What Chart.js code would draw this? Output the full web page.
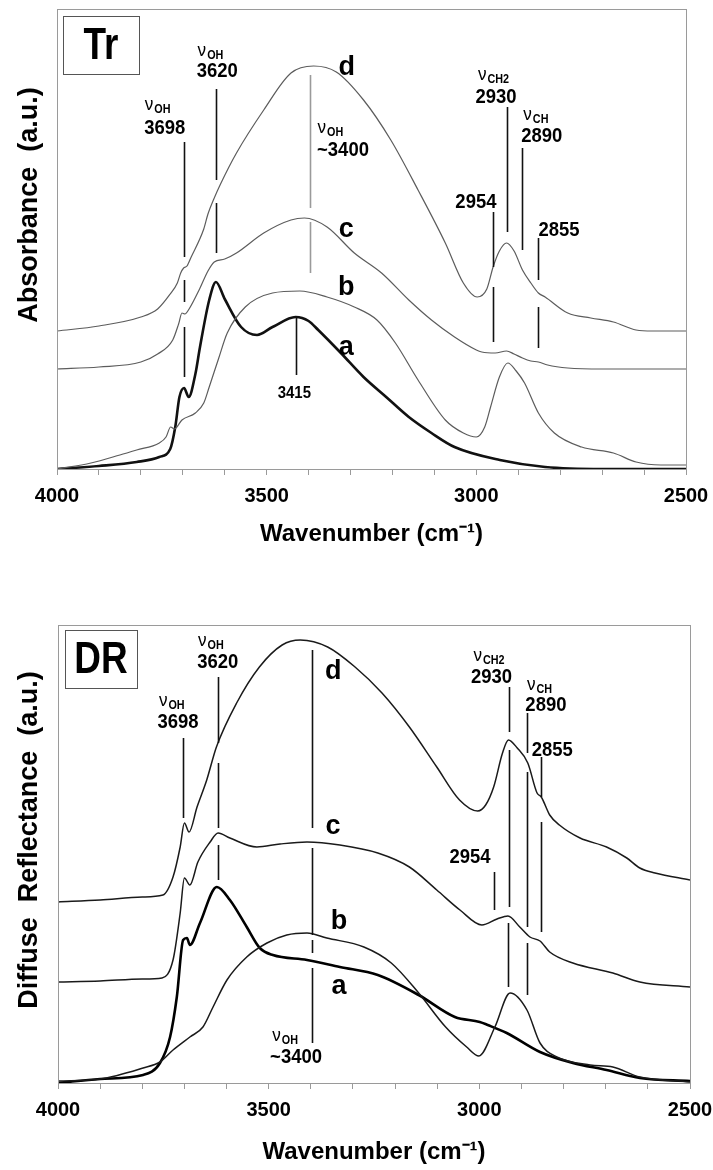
<!DOCTYPE html>
<html>
<head>
<meta charset="utf-8">
<script src="https://cdn.jsdelivr.net/npm/chart.js@4.4.1/dist/chart.umd.min.js"></script>
<style>
  html, body { margin: 0; padding: 0; background: #fff; }
  canvas { display: block; }
</style>
</head>
<body>
<canvas id="trChart" width="713" height="560"></canvas>
<canvas id="drChart" width="713" height="610"></canvas>
<script>
// ---- Transmission (Tr) spectra, wavenumber (cm-1) vs absorbance (a.u., offset) ----
const trWnD = [4000, 3900, 3800, 3760, 3730, 3713, 3705, 3698, 3690, 3680, 3650, 3640, 3626, 3610, 3572, 3507, 3442, 3388, 3334, 3269, 3204, 3139, 3074, 3031, 2998, 2975, 2960, 2945, 2928, 2910, 2890, 2870, 2852, 2836, 2782, 2727, 2673, 2619, 2580, 2500];
const trD   = [1.38, 1.43, 1.52, 1.60, 1.75, 1.86, 1.96, 2.01, 2.03, 2.12, 2.40, 2.55, 2.70, 2.85, 3.16, 3.59, 3.96, 4.03, 3.97, 3.69, 3.29, 2.79, 2.26, 1.86, 1.72, 1.80, 2.02, 2.18, 2.26, 2.18, 1.99, 1.86, 1.76, 1.72, 1.56, 1.51, 1.47, 1.39, 1.38, 1.38];
const trWnC = [4000, 3900, 3800, 3760, 3724, 3710, 3702, 3695, 3685, 3660, 3640, 3625, 3600, 3572, 3507, 3442, 3410, 3356, 3291, 3226, 3161, 3107, 3052, 3000, 2987, 2955, 2928, 2910, 2890, 2870, 2852, 2830, 2782, 2700, 2500];
const trC   = [1.00, 1.02, 1.07, 1.15, 1.29, 1.45, 1.56, 1.55, 1.60, 1.80, 1.98, 2.07, 2.10, 2.16, 2.36, 2.49, 2.51, 2.42, 2.16, 1.96, 1.69, 1.49, 1.32, 1.19, 1.17, 1.16, 1.18, 1.15, 1.11, 1.08, 1.07, 1.04, 1.01, 1.00, 1.00];
const trWnB = [4000, 3919, 3850, 3810, 3756, 3740, 3729, 3720, 3702, 3670, 3650, 3637, 3615, 3594, 3551, 3486, 3421, 3356, 3291, 3237, 3193, 3139, 3074, 3031, 3000, 2980, 2966, 2945, 2925, 2905, 2885, 2852, 2814, 2749, 2673, 2619, 2560, 2500];
const trB   = [0.00, 0.06, 0.14, 0.19, 0.26, 0.32, 0.42, 0.40, 0.49, 0.56, 0.66, 0.82, 1.10, 1.36, 1.62, 1.76, 1.78, 1.72, 1.62, 1.49, 1.26, 0.89, 0.49, 0.36, 0.32, 0.42, 0.62, 0.92, 1.06, 0.98, 0.86, 0.56, 0.36, 0.22, 0.16, 0.07, 0.04, 0.04];
const trWnA = [4000, 3900, 3810, 3756, 3730, 3718, 3708, 3697, 3686, 3670, 3659, 3637, 3621, 3600, 3561, 3523, 3486, 3431, 3400, 3377, 3323, 3269, 3215, 3161, 3107, 3052, 2944, 2836, 2700, 2500];
const trA   = [0.00, 0.03, 0.07, 0.12, 0.20, 0.42, 0.72, 0.81, 0.72, 0.95, 1.22, 1.69, 1.87, 1.70, 1.42, 1.34, 1.42, 1.52, 1.48, 1.39, 1.16, 0.92, 0.72, 0.52, 0.36, 0.22, 0.09, 0.02, 0.00, 0.00];

// ---- Diffuse reflectance (DR) spectra ----
const drWnD = [4000, 3900, 3800, 3751, 3727, 3710, 3700, 3689, 3670, 3647, 3624, 3576, 3522, 3468, 3425, 3360, 3295, 3231, 3166, 3101, 3047, 3004, 2985, 2966, 2945, 2931, 2910, 2885, 2863, 2853, 2833, 2810, 2761, 2698, 2650, 2619, 2583, 2500];
const drD   = [1.81, 1.83, 1.86, 1.88, 2.06, 2.36, 2.60, 2.51, 2.76, 3.03, 3.36, 3.80, 4.16, 4.38, 4.43, 4.36, 4.16, 3.90, 3.56, 3.16, 2.83, 2.72, 2.78, 2.96, 3.30, 3.43, 3.35, 3.20, 2.90, 2.86, 2.68, 2.58, 2.45, 2.36, 2.25, 2.15, 2.10, 2.03];
const drWnC = [4000, 3900, 3800, 3753, 3727, 3710, 3700, 3687, 3668, 3639, 3620, 3592, 3528, 3473, 3409, 3331, 3241, 3166, 3101, 3046, 2994, 2958, 2932, 2904, 2880, 2856, 2833, 2778, 2683, 2619, 2500];
const drC   = [1.01, 1.02, 1.04, 1.05, 1.23, 1.70, 2.05, 1.98, 2.21, 2.41, 2.50, 2.45, 2.36, 2.39, 2.41, 2.38, 2.30, 2.16, 1.93, 1.73, 1.58, 1.64, 1.67, 1.56, 1.46, 1.42, 1.31, 1.20, 1.10, 1.01, 0.96];
const drWnB = [4000, 3900, 3798, 3758, 3727, 3687, 3656, 3632, 3599, 3552, 3504, 3457, 3409, 3362, 3274, 3209, 3144, 3080, 3030, 3001, 2963, 2927, 2887, 2856, 2816, 2737, 2683, 2619, 2500];
const drB   = [0.02, 0.04, 0.15, 0.21, 0.33, 0.46, 0.56, 0.76, 1.03, 1.26, 1.40, 1.48, 1.50, 1.45, 1.36, 1.20, 0.90, 0.56, 0.36, 0.27, 0.56, 0.90, 0.73, 0.40, 0.26, 0.18, 0.16, 0.06, 0.01];
const drWnA = [4000, 3900, 3798, 3758, 3734, 3718, 3703, 3694, 3687, 3663, 3623, 3592, 3552, 3521, 3490, 3409, 3331, 3241, 3144, 3058, 2999, 2980, 2935, 2856, 2778, 2698, 2619, 2500];
const drA   = [0.00, 0.04, 0.08, 0.20, 0.46, 0.86, 1.43, 1.45, 1.38, 1.60, 1.96, 1.83, 1.56, 1.35, 1.28, 1.23, 1.16, 1.08, 0.88, 0.66, 0.61, 0.58, 0.50, 0.31, 0.20, 0.13, 0.05, 0.02];

// ---- axis ----
const xMin = 2500, xMax = 4000, xStep = 100, xLabelStep = 500;
const trYMax = 4.6, drYMax = 4.58;

// ---- peak marker lines: [wavenumber, from, to] ----
const trMarks = [[3697, 3.27, 2.12], [3697, 1.89, 1.67], [3697, 1.42, 0.92], [3621, 3.80, 2.89], [3621, 2.66, 2.16], [3431, 1.51, 0.94], [2960, 2.57, 2.02], [2960, 1.82, 1.27], [2928, 3.62, 2.37], [2890, 3.21, 2.19], [2852, 2.31, 1.89], [2852, 1.62, 1.21]];
const trGrayMarks = [[3396, 3.94, 2.61], [3396, 2.47, 1.96]];
const drMarks = [[3703, 3.45, 2.65], [3620, 4.06, 3.40], [3620, 3.20, 2.55], [3620, 2.38, 2.03], [3397, 4.33, 2.55], [3397, 2.35, 1.48], [3397, 1.43, 1.30], [3397, 1.15, 0.40], [2965, 2.11, 1.73], [2929, 3.96, 3.51], [2929, 3.33, 1.76], [2931, 1.60, 0.96], [2887, 3.70, 3.30], [2887, 3.11, 1.56], [2887, 1.40, 0.88], [2854, 3.26, 2.86], [2854, 2.61, 1.51]];

// ---- text labels: [kind, wavenumber, value, text] ----
const trTexts = [
  ['nu', 3760, 3.62, 'OH'], ['num', 3743, 3.41, '3698'],
  ['nu', 3634, 4.16, 'OH'], ['num', 3618, 3.98, '3620'],
  ['nu', 3348, 3.39, 'OH'], ['num', 3318, 3.19, '~3400'],
  ['nu', 2959, 3.92, 'CH2'], ['num', 2953, 3.72, '2930'],
  ['nu', 2858, 3.52, 'CH'], ['num', 2844, 3.33, '2890'],
  ['num', 3001, 2.67, '2954'], ['num', 2803, 2.39, '2855'],
  ['small', 3434, 0.76, '3415'],
  ['curve', 3309, 4.01, 'd'], ['curve', 3310, 2.39, 'c'], ['curve', 3310, 1.81, 'b'], ['curve', 3310, 1.21, 'a']
];
const drTexts = [
  ['nu', 3730, 3.80, 'OH'], ['num', 3715, 3.61, '3698'],
  ['nu', 3637, 4.40, 'OH'], ['num', 3621, 4.21, '3620'],
  ['nu', 3461, 0.45, 'OH'], ['num', 3435, 0.26, '~3400'],
  ['nu', 2977, 4.25, 'CH2'], ['num', 2971, 4.06, '2930'],
  ['nu', 2857, 3.96, 'CH'], ['num', 2842, 3.78, '2890'],
  ['num', 3022, 2.26, '2954'], ['num', 2827, 3.33, '2855'],
  ['curve', 3347, 4.11, 'd'], ['curve', 3347, 2.56, 'c'], ['curve', 3333, 1.61, 'b'], ['curve', 3333, 0.96, 'a']
];

const SANS = '"Liberation Sans", Arial, sans-serif';

function toPoints(wn, vals) {
  return wn.map((w, i) => ({ x: w, y: vals[i] }));
}

// condensed text: horizontally squeezed, like the narrow font of the original
function narrowText(ctx, text, x, y, font, sx, align) {
  ctx.save();
  ctx.translate(x, y);
  ctx.scale(sx, 1);
  ctx.font = font;
  ctx.textAlign = align || 'center';
  ctx.fillText(text, 0, 0);
  ctx.restore();
}

function drawNu(ctx, x, y, sub) {
  ctx.font = '19px ' + SANS;
  const w1 = ctx.measureText('ν').width * 0.9;
  ctx.font = 'bold 12px ' + SANS;
  const w2 = ctx.measureText(sub).width * 0.9;
  const x0 = x - (w1 + w2 + 1) / 2;
  narrowText(ctx, 'ν', x0, y - 2, '19px ' + SANS, 0.9, 'left');
  narrowText(ctx, sub, x0 + w1 + 1, y + 3, 'bold 12px ' + SANS, 0.9, 'left');
}

// draws frame, sample box, y title, marker lines and labels
const annotatePlugin = {
  id: 'annotate',
  afterDatasetsDraw(chart, args, opts) {
    const ctx = chart.ctx;
    const area = chart.chartArea;
    const xs = chart.scales.x, ys = chart.scales.y;
    ctx.save();

    ctx.strokeStyle = '#9a9a9a';
    ctx.lineWidth = 1;
    ctx.strokeRect(area.left + 0.5, area.top + 0.5, area.right - area.left, area.bottom - area.top);

    // sample box
    ctx.strokeStyle = '#555';
    ctx.strokeRect(area.left + opts.box[0] + 0.5, area.top + opts.box[1] + 0.5, opts.box[2], opts.box[3]);
    ctx.fillStyle = '#000';
    ctx.textBaseline = 'middle';
    narrowText(ctx, opts.name, area.left + opts.box[0] + opts.box[2] / 2, area.top + opts.box[1] + opts.box[3] / 2 + 2,
      'bold 44px ' + SANS, 0.84);

    // y axis title
    ctx.save();
    ctx.translate(30, opts.yTitleY);
    ctx.rotate(-Math.PI / 2);
    ctx.font = 'bold 27px ' + SANS;
    ctx.textAlign = 'center';
    ctx.fillText(opts.yTitle, 0, 0);
    ctx.restore();

    const seg = (list, color, width) => {
      ctx.strokeStyle = color;
      ctx.lineWidth = width;
      list.forEach(m => {
        const px = Math.round(xs.getPixelForValue(m[0])) + 0.5;
        ctx.beginPath();
        ctx.moveTo(px, ys.getPixelForValue(m[1]));
        ctx.lineTo(px, ys.getPixelForValue(m[2]));
        ctx.stroke();
      });
    };
    seg(opts.marks, '#111', 1.6);
    seg(opts.grayMarks || [], '#9a9a9a', 1.6);

    ctx.fillStyle = '#000';
    ctx.textBaseline = 'middle';
    opts.texts.forEach(t => {
      const px = xs.getPixelForValue(t[1]);
      const py = ys.getPixelForValue(t[2]);
      if (t[0] === 'nu') drawNu(ctx, px, py, t[3]);
      if (t[0] === 'num') narrowText(ctx, t[3], px, py, 'bold 21px ' + SANS, 0.88);
      if (t[0] === 'small') narrowText(ctx, t[3], px, py, 'bold 17px ' + SANS, 0.88);
      if (t[0] === 'curve') narrowText(ctx, t[3], px, py, 'bold 27px ' + SANS, 1);
    });
    ctx.restore();
  }
};

function makeChart(id, cfg) {
  const series = cfg.series.map(s => ({
    data: toPoints(s[0], s[1]),
    borderColor: s[2],
    borderWidth: s[3],
    pointRadius: 0,
    fill: false,
    cubicInterpolationMode: 'monotone'
  }));
  return new Chart(document.getElementById(id), {
    type: 'line',
    data: { datasets: series },
    options: {
      responsive: false,
      animation: false,
      events: [],
      layout: { padding: cfg.padding },
      plugins: {
        legend: { display: false },
        tooltip: { enabled: false },
        annotate: cfg.annotate
      },
      scales: {
        x: {
          type: 'linear',
          min: xMin,
          max: xMax,
          reverse: true,
          ticks: {
            stepSize: xStep,
            autoSkip: false,
            maxRotation: 0,
            padding: 9,
            color: '#000',
            font: { family: SANS, size: 20, weight: 'bold' },
            callback: v => (v % xLabelStep === 0 ? String(v) : '')
          },
          grid: { drawOnChartArea: false, drawTicks: true, tickLength: 6, color: '#9a9a9a' },
          border: { color: '#9a9a9a' },
          title: {
            display: true,
            text: 'Wavenumber (cm⁻¹)',
            color: '#000',
            font: { family: SANS, size: 24, weight: 'bold' },
            padding: { top: 0, bottom: cfg.titlePad }
          },
          afterFit: s => {
            s.height = cfg.axisHeight;
            s.paddingLeft = 0;
            s.paddingRight = 0;
          }
        },
        y: { display: false, min: 0, max: cfg.yMax }
      }
    },
    plugins: [annotatePlugin]
  });
}

makeChart('trChart', {
  padding: { left: 57, right: 27, top: 9, bottom: 0 },
  axisHeight: 91,
  titlePad: 11,
  yMax: trYMax,
  series: [
    [trWnD, trD, '#5c5c5c', 1.2],
    [trWnC, trC, '#5c5c5c', 1.2],
    [trWnB, trB, '#5c5c5c', 1.2],
    [trWnA, trA, '#111', 2.6]
  ],
  annotate: {
    name: 'Tr', box: [6, 7, 76, 58], yTitle: 'Absorbance  (a.u.)', yTitleY: 205,
    marks: trMarks, grayMarks: trGrayMarks, texts: trTexts
  }
});

makeChart('drChart', {
  padding: { left: 58, right: 23, top: 65, bottom: 0 },
  axisHeight: 87,
  titlePad: 3,
  yMax: drYMax,
  series: [
    [drWnD, drD, '#1a1a1a', 1.5],
    [drWnC, drC, '#1a1a1a', 1.5],
    [drWnB, drB, '#1a1a1a', 1.5],
    [drWnA, drA, '#000', 2.6]
  ],
  annotate: {
    name: 'DR', box: [7, 5, 72, 58], yTitle: 'Diffuse  Reflectance  (a.u.)', yTitleY: 280,
    marks: drMarks, texts: drTexts
  }
});
</script>
</body>
</html>
